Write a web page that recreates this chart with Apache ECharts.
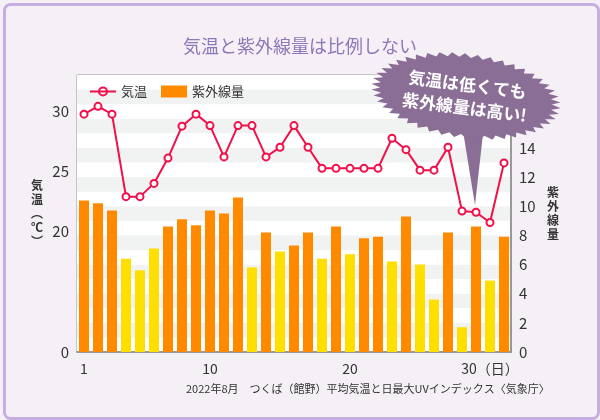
<!DOCTYPE html>
<html><head><meta charset="utf-8">
<script src="https://cdn.jsdelivr.net/npm/echarts@6/dist/echarts.min.js"></script>
<style>html,body{margin:0;padding:0;background:#f5f0f6}#c{width:600px;height:420px}</style>
</head><body><div id="c"></div>
<script>
const days=[];
for(let d=1;d<=31;d++) days.push(String(d));
const temp=[29.75,30.4,29.75,22.9,22.9,24,26.1,28.75,29.75,28.8,26.2,28.8,28.8,26.2,27,28.8,27,25.25,25.25,25.25,25.25,25.25,27.75,26.8,25.1,25.1,27,21.7,21.6,20.75,25.7];
const uv=[10.4,10.2,9.7,6.4,5.6,7.1,8.6,9.1,8.7,9.7,9.5,10.6,5.8,8.2,6.9,7.3,8.2,6.4,8.6,6.7,7.8,7.9,6.2,9.3,6.0,3.6,8.2,1.7,8.6,4.9,7.9];
const orange='#ff8a00',yellow='#ffdf00',red='#f0104a',purple='#8a6e96';
const font='"Noto Sans CJK JP","Noto Sans",sans-serif';

var myChart=echarts.init(document.getElementById('c'));

// jagged bubble outline
const cx=466,cy=96,rx=90,ry=40,rot=0.13,spikes=46;
let pts=[];
for(let i=0;i<spikes*2;i++){
    let a=Math.PI*2*i/(spikes*2);
    let k=i%2===0?1.06:0.96;
    let x=rx*k*Math.cos(a),y=ry*k*Math.sin(a);
    pts.push([cx+x*Math.cos(rot)-y*Math.sin(rot),cy+x*Math.sin(rot)+y*Math.cos(rot)]);
}

var option={
    backgroundColor:'#f5f0f6',
    textStyle:{fontFamily:font},
    title:{
        text:'気温と紫外線量は比例しない',
        left:'center',top:32,
        textStyle:{fontSize:18,fontWeight:'normal',color:'#8b78b8',fontFamily:font}
    },
    legend:{
        left:84,top:80,itemGap:14,itemWidth:26,itemHeight:12,
        textStyle:{fontSize:13,color:'#333'},
        data:[{name:'気温',icon:'path://M0,5 L26,5 M13,5 m-4,0 a4,4 0 1,0 8,0 a4,4 0 1,0 -8,0'},{name:'紫外線量',icon:'rect'}]
    },
    grid:{left:77,right:89,top:75,bottom:68,show:true,borderColor:'#999',borderWidth:1,backgroundColor:'#fff'},
    xAxis:{
        type:'category',data:days,boundaryGap:true,
        axisTick:{show:false},
        axisLine:{lineStyle:{color:'#999',width:2}},
        axisLabel:{
            fontSize:14,color:'#333',margin:10,
            interval:0,
            formatter:function(v){
                if(v==='1'||v==='10'||v==='20') return v;
                if(v==='30') return '30（日）';
                return '';
            }
        }
    },
    yAxis:[{
        type:'value',min:10,max:33,interval:5,
        name:'気\n温\n︵\n℃\n︶',nameLocation:'middle',nameGap:34,nameRotate:0,
        nameTextStyle:{fontSize:12,color:'#333',fontWeight:'bold',lineHeight:14},
        axisLine:{show:false},axisTick:{show:false},splitLine:{show:false},
        axisLabel:{fontSize:15,color:'#333',formatter:function(v){return v===10?'0':((v===15||v>30)?'':v);}}
    },{
        type:'value',min:0,max:19,interval:2,position:'right',
        name:'紫\n外\n線\n量',nameLocation:'middle',nameGap:36,nameRotate:0,
        nameTextStyle:{fontSize:12,color:'#333',fontWeight:'bold',lineHeight:14},
        axisLine:{show:true,lineStyle:{color:'#999',width:2}},axisTick:{show:false},splitLine:{show:false},
        axisLabel:{fontSize:15,color:'#333',formatter:function(v){return v>14?'':v;}}
    },{
        type:'value',min:0,max:19,interval:1,show:true,position:'right',
        axisLine:{show:false},axisTick:{show:false},axisLabel:{show:false},splitLine:{show:false},
        splitArea:{show:true,areaStyle:{color:['#fff','#f1f3f3']}}
    }],
    series:[{
        name:'紫外線量',type:'bar',yAxisIndex:1,barWidth:10,z:2,
        itemStyle:{color:orange},
        data:uv.map(v=>({value:v,itemStyle:{color:v>=7.2?orange:yellow}}))
    },{
        name:'気温',type:'line',yAxisIndex:0,z:5,
        symbol:'circle',symbolSize:7,
        lineStyle:{color:red,width:2},
        itemStyle:{color:'#fff',borderColor:red,borderWidth:2},
        data:temp
    }],
    graphic:[{
        type:'rect',left:2,top:2,z:-10,silent:true,
        shape:{width:594,height:414,r:6},
        style:{fill:'none',stroke:'#c6aee0',lineWidth:3}
    },{
        type:'polygon',z:100,silent:true,
        shape:{points:[[462,125],[484,125],[475,205]]},
        style:{fill:purple}
    },{
        type:'polygon',z:100,silent:true,
        shape:{points:pts},
        style:{fill:purple}
    },{
        type:'text',z:101,silent:true,
        x:cx,y:cy,rotation:-rot,
        style:{text:'気温は低くても\n紫外線量は高い!',fill:'#fff',font:'bold 17px '+font,
            align:'center',verticalAlign:'middle',lineHeight:23}
    },{
        type:'text',z:101,silent:true,left:186,top:383,
        style:{text:'2022年8月　つくば（館野）平均気温と日最大UVインデックス〈気象庁〉',fill:'#333',font:'11px '+font}
    }]
};
myChart.setOption(option);
</script></body></html>
